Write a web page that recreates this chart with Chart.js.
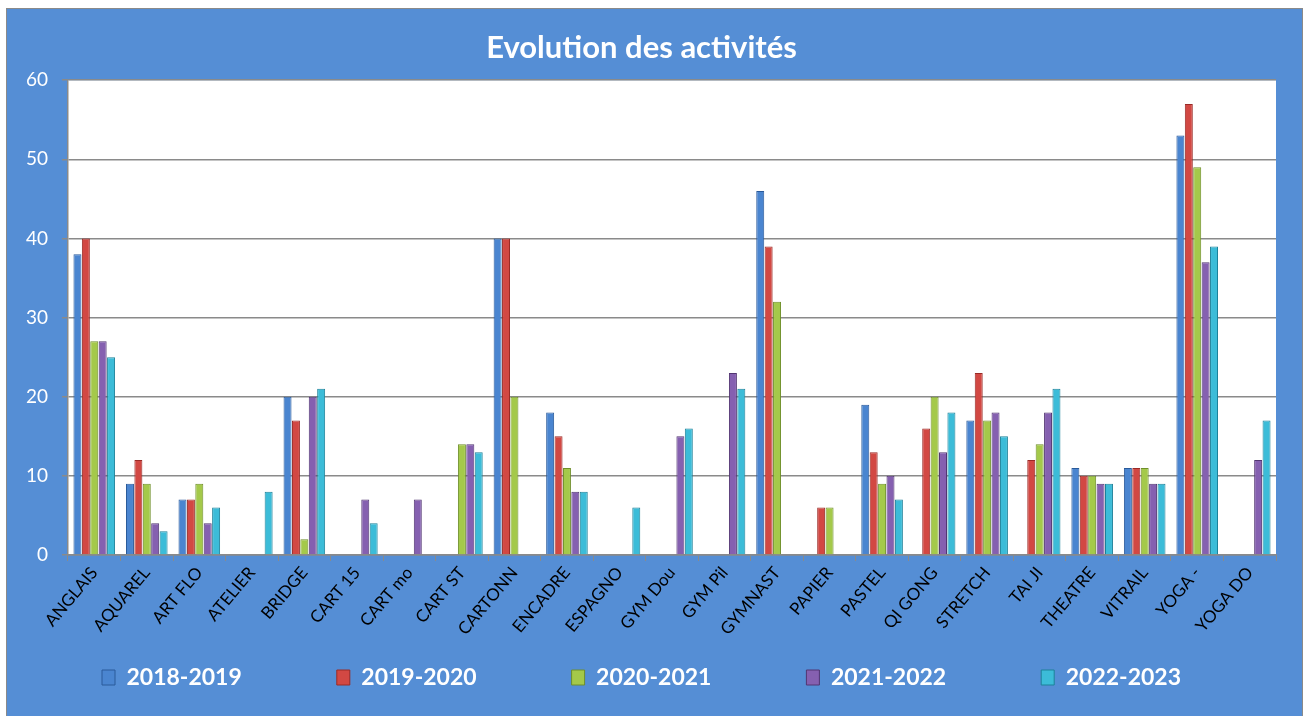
<!DOCTYPE html>
<html>
<head>
<meta charset="UTF-8" />
<title>Evolution des activités</title>
<script src="https://cdn.jsdelivr.net/npm/chart.js@4.4.0/dist/chart.umd.min.js"></script>
<style>
    body { margin: 0; background: #fff; width: 1303px; height: 716px; overflow: hidden; }
    #box { position: absolute; left: 6px; top: 8px; width: 1295px; height: 720px;
           background: #558ed5; border: 1px solid #8a8a8a; border-bottom: none; }
</style>
</head>
<body>
<div id="box"><canvas id="chart" width="1295" height="707"></canvas></div>
<script>
var activites = ['ANGLAIS', 'AQUAREL', 'ART FLO', 'ATELIER', 'BRIDGE', 'CART 15', 'CART mo', 'CART ST',
    'CARTONN', 'ENCADRE', 'ESPAGNO', 'GYM Dou', 'GYM Pil', 'GYMNAST', 'PAPIER', 'PASTEL',
    'QI GONG', 'STRETCH', 'TAI JI', 'THEATRE', 'VITRAIL', 'YOGA -', 'YOGA DO'];

var y2018 = [38, 9, 7, null, 20, null, null, null, 40, 18, null, null, null, 46, null, 19, null, 17, null, 11, 11, 53, null];
var y2019 = [40, 12, 7, null, 17, null, null, null, 40, 15, null, null, null, 39, 6, 13, 16, 23, 12, 10, 11, 57, null];
var y2020 = [27, 9, 9, null, 2, null, null, 14, 20, 11, null, null, null, 32, 6, 9, 20, 17, 14, 10, 11, 49, null];
var y2021 = [27, 4, 4, null, 20, 7, 7, 14, null, 8, null, 15, 23, null, null, 10, 13, 18, 18, 9, 9, 37, 12];
var y2022 = [25, 3, 6, 8, 21, 4, null, 13, null, 8, 6, 16, 21, null, null, 7, 18, 15, 21, 9, 9, 39, 17];

var saisons = ['2018-2019', '2019-2020', '2020-2021', '2021-2022', '2022-2023'];
var yTicks = [0, 10, 20, 30, 40, 50, 60];

var couleurs = [
    ['#2a5a9a', '#4a85d0'],
    ['#9a2a26', '#d24843'],
    ['#6f8f2a', '#a4c94a'],
    ['#523572', '#8560b0'],
    ['#1d8199', '#3cbcd8']
];

// fond blanc de la zone du graphe
var fondBlanc = {
    id: 'fondBlanc',
    beforeDraw: function(chart) {
        var a = chart.chartArea, c = chart.ctx;
        c.save();
        c.fillStyle = '#ffffff';
        c.fillRect(a.left, a.top, a.right - a.left, a.bottom - a.top);
        c.restore();
    }
};

function degrade(i) {
    return function(context) {
        var el = context.element;
        if (!el || !el.width || isNaN(el.x)) return couleurs[i][1];
        var x0 = el.x - el.width / 2, x1 = el.x + el.width / 2;
        var g = context.chart.ctx.createLinearGradient(x0, 0, x1, 0);
        g.addColorStop(0, couleurs[i][0]);
        g.addColorStop(0.35, couleurs[i][1]);
        g.addColorStop(1, couleurs[i][0]);
        return g;
    };
}

var series = [y2018, y2019, y2020, y2021, y2022];
var datasets = series.map(function(d, i) {
    return {
        label: saisons[i],
        data: d,
        backgroundColor: degrade(i),
        borderColor: couleurs[i][0],
        borderWidth: 1,
        categoryPercentage: 0.8,
        barPercentage: 0.95
    };
});

var ctx = document.getElementById('chart');
new Chart(ctx, {
    type: 'bar',
    data: { labels: activites, datasets: datasets },
    plugins: [fondBlanc],
    options: {
        responsive: false,
        animation: false,
        layout: { padding: { left: 0, right: 26, top: 0, bottom: 17 } },
        plugins: {
            title: {
                display: true,
                text: 'Evolution des activités',
                color: '#ffffff',
                font: { family: 'Lato', size: 31, weight: 'bold' },
                padding: { top: 20, bottom: 14 }
            },
            legend: {
                position: 'bottom',
                maxHeight: 140,
                labels: {
                    color: '#ffffff',
                    font: { family: 'Lato', size: 23, weight: 'bold' },
                    boxWidth: 13,
                    boxHeight: 15,
                    padding: 95,
                    generateLabels: function(chart) {
                        return saisons.map(function(s, i) {
                            return {
                                text: s,
                                fillStyle: couleurs[i][1],
                                strokeStyle: couleurs[i][0],
                                lineWidth: 1,
                                fontColor: '#ffffff',
                                datasetIndex: i
                            };
                        });
                    }
                }
            },
            tooltip: { enabled: false }
        },
        scales: {
            x: {
                grid: { offset: true, drawOnChartArea: false, color: '#8a8a8a', tickLength: 6 },
                border: { color: '#8a8a8a', width: 1.5 },
                ticks: {
                    color: '#000000',
                    font: { family: 'Lato', size: 17 },
                    minRotation: 50,
                    maxRotation: 50,
                    autoSkip: false,
                    padding: 2
                },
                afterFit: function(scale) {
                    scale.height = 16;
                    // les libellés débordent sous la légende : pas de découpe
                    scale._computeLabelArea = function() { return undefined; };
                }
            },
            y: {
                min: 0,
                max: 60,
                afterBuildTicks: function(scale) {
                    scale.ticks = yTicks.map(function(v) { return { value: v }; });
                },
                grid: { color: '#8a8a8a', lineWidth: 1.5, tickLength: 6 },
                border: { color: '#8a8a8a', width: 1.5 },
                ticks: {
                    color: '#ffffff',
                    font: { family: 'Lato', size: 19 },
                    padding: 14
                },
                afterFit: function(scale) { scale.width = 61; }
            }
        }
    }
});
</script>
</body>
</html>
